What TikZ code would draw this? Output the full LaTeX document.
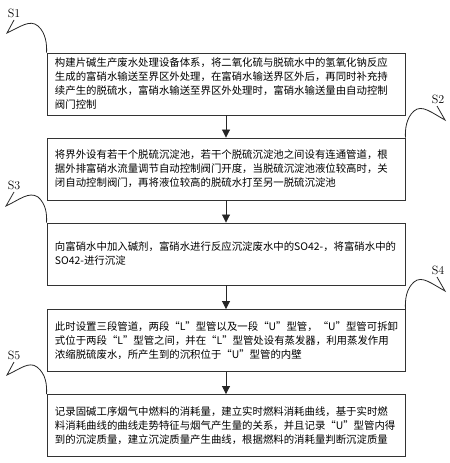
\documentclass[tikz,border=0pt]{standalone}
\usepackage{fontspec}
\newfontfamily\cjk{Noto Sans CJK SC}
\usetikzlibrary{arrows.meta}
\begin{document}
\begin{tikzpicture}[x=1bp,y=-1bp,
  stepbox/.style={draw=black!80, line width=0.9bp, rectangle, minimum width=358bp, minimum height=62bp,
    text width=342bp, inner xsep=8bp, align=left, font=\cjk\fontsize{10.4bp}{14bp}\selectfont},
  lab/.style={font=\fontsize{12bp}{12bp}\selectfont, inner sep=0pt},
  lead/.style={draw=black!85, line width=0.8bp},
  flow/.style={draw=black!85, line width=0.9bp, -{Triangle[width=8bp,length=8bp]}}]
\useasboundingbox (0,0) rectangle (450,463);
\fill[white] (0,0) rectangle (450,463);

\node[stepbox] (b1) at (226,84) {构建片碱生产废水处理设备体系，将二氧化硫与脱硫水中的氢氧化钠反应\\生成的富硝水输送至界区外处理，在富硝水输送界区外后，再同时补充持\\续产生的脱硫水，富硝水输送至界区外处理时，富硝水输送量由自动控制\\阀门控制};
\node[stepbox] (b2) at (226,169) {将界外设有若干个脱硫沉淀池，若干个脱硫沉淀池之间设有连通管道，根\\据外排富硝水流量调节自动控制阀门开度，当脱硫沉淀池液位较高时，关\\闭自动控制阀门，再将液位较高的脱硫水打至另一脱硫沉淀池};
\node[stepbox] (b3) at (226,254) {向富硝水中加入碱剂，富硝水进行反应沉淀废水中的SO42-，将富硝水中的\\SO42-进行沉淀};
\node[stepbox] (b4) at (226,340.5) {此时设置三段管道，两段“L”型管以及一段“U”型管，“U”型管可拆卸\\式位于两段“L”型管之间，并在“L”型管处设有蒸发器，利用蒸发作用\\浓缩脱硫废水，所产生到的沉积位于“U”型管的内壁};
\node[stepbox] (b5) at (226,425.5) {记录固碱工序烟气中燃料的消耗量，建立实时燃料消耗曲线，基于实时燃\\料消耗曲线的曲线走势特征与烟气产生量的关系，并且记录“U”型管内得\\到的沉淀质量，建立沉淀质量产生曲线，根据燃料的消耗量判断沉淀质量};

\draw[flow] (b1.south) -- (b2.north);
\draw[flow] (b2.south) -- (b3.north);
\draw[flow] (b3.south) -- (b4.north);
\draw[flow] (b4.south) -- (b5.north);

\node[lab] (s1) at (14,13) {S1};
\node[lab] (s2) at (438,99) {S2};
\node[lab] (s3) at (14,185) {S3};
\node[lab] (s4) at (438,270) {S4};
\node[lab] (s5) at (14,355) {S5};

\coordinate (c1) at (14,20);
\coordinate (c2) at (437,106);
\coordinate (c3) at (14,192);
\coordinate (c4) at (437,277);
\coordinate (c5) at (14,362);

\draw[lead] (c1) -- (7,33) .. controls (20,27) and (30,19) .. (38,26) .. controls (46,33) and (47,45) .. (b1.north west);
\draw[lead] (c2) -- (445,120) .. controls (432,113) and (422,104) .. (414,111) .. controls (406,118) and (405,130) .. (b2.north east);
\draw[lead] (c3) -- (6,206) .. controls (19,200) and (29,191) .. (38,197) .. controls (46,204) and (47,214) .. (b3.north west);
\draw[lead] (c4) -- (445,291) .. controls (432,284) and (422,275) .. (414,282) .. controls (406,289) and (405,300) .. (b4.north east);
\draw[lead] (c5) -- (7,375) .. controls (20,369) and (29,361) .. (37,367) .. controls (46,374) and (47,385) .. (b5.north west);
\end{tikzpicture}
\end{document}
